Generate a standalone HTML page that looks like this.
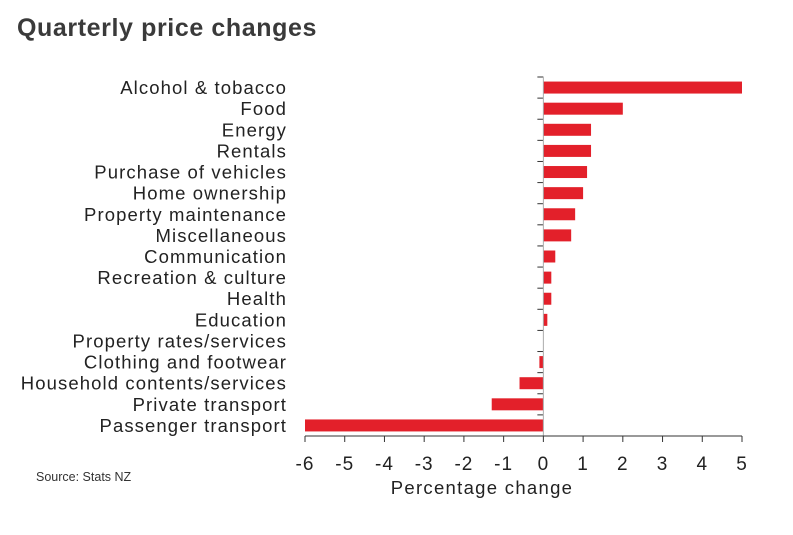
<!DOCTYPE html>
<html><head><meta charset="utf-8"><style>
html,body{margin:0;padding:0;background:#fff;}
body{width:793px;height:535px;overflow:hidden;position:relative;font-family:"Liberation Sans",sans-serif;}
#title{position:absolute;left:17px;top:14px;font-size:25px;font-weight:bold;color:#3a3a3a;letter-spacing:0.6px;}
#src{position:absolute;left:36px;top:470px;font-size:12.5px;color:#333;}
svg{position:absolute;left:0;top:0;}
</style></head><body>
<div id="title">Quarterly price changes</div>
<div id="src">Source: Stats NZ</div>
<svg id="chart" width="793" height="535"></svg>
<script>
const categories=["Alcohol & tobacco","Food","Energy","Rentals","Purchase of vehicles","Home ownership","Property maintenance","Miscellaneous","Communication","Recreation & culture","Health","Education","Property rates/services","Clothing and footwear","Household contents/services","Private transport","Passenger transport"];
const values=[5,2,1.2,1.2,1.1,1.0,0.8,0.7,0.3,0.2,0.2,0.1,0,-0.1,-0.6,-1.3,-6];
const xTicks=[-6,-5,-4,-3,-2,-1,0,1,2,3,4,5];
const NS="http://www.w3.org/2000/svg";
const svg=document.getElementById('chart');
const x0=305,x1=742,xmin=-6,xmax=5;
const yTop=77,yBottom=436;
const band=(yBottom-yTop)/categories.length;
function X(v){return x0+(v-xmin)/(xmax-xmin)*(x1-x0);}
function Y(i){return yTop+band*i;}
function mk(t,a){const e=document.createElementNS(NS,t);for(const k in a)e.setAttribute(k,a[k]);svg.appendChild(e);return e;}
categories.forEach((c,i)=>{
  const v=values[i];
  const r=mk('rect',{x:Math.min(X(0),X(v)),y:Y(i)+band/2-6,width:Math.abs(X(v)-X(0)),height:12,fill:'#e3202a'});
  
  
  const t=mk('text',{x:287,y:Y(i)+band/2+6.5,'text-anchor':'end','font-size':18.5,'letter-spacing':1.1,fill:'#222'});
  t.textContent=c;
  
  
  const tk=mk('line',{x1:X(0)-6,x2:X(0),y1:Y(i),y2:Y(i),stroke:'#333','stroke-width':1});
  
  
});
const zl=mk('line',{x1:X(0),x2:X(0),y1:yTop,y2:yBottom,stroke:'#aaa','stroke-width':1});


const ax=mk('line',{x1:x0,x2:x1,y1:yBottom,y2:yBottom,stroke:'#333','stroke-width':1});


xTicks.forEach(v=>{
  const l=mk('line',{x1:X(v),x2:X(v),y1:yBottom,y2:yBottom+6,stroke:'#333','stroke-width':1});
  
  
  const t=mk('text',{x:X(v),y:470,'text-anchor':'middle','font-size':19,'letter-spacing':1,fill:'#222'});
  t.textContent=v;
  
  
});
const xt=mk('text',{x:482,y:494,'text-anchor':'middle','font-size':18.5,'letter-spacing':1.3,fill:'#222'});
xt.textContent='Percentage change';


</script>
</body></html>
